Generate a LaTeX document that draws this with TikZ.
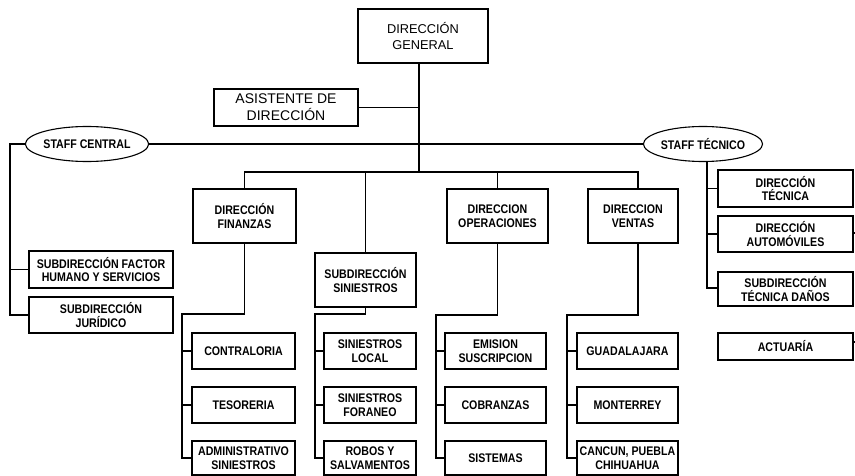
\documentclass[tikz,border=0pt]{standalone}
\usepackage{fontspec}
\setmainfont{Liberation Sans}
\newfontfamily\narrowsans{Liberation Sans}[FakeStretch=0.85]
\usetikzlibrary{shapes.geometric}

\tikzset{
  unit/.style={draw, line width=1.1pt, inner sep=0pt, align=center,
    font=\narrowsans\bfseries\fontsize{12.5}{13.5}\selectfont},
  oval/.style={unit, ellipse},
  head/.style={unit, font=\fontsize{12.8}{16}\selectfont},
  link/.style={line width=1.1pt},
}

\begin{document}
\begin{tikzpicture}[x=1pt, y=-1pt]
\useasboundingbox (0,0) rectangle (855,476);

% top level
\node[head, minimum width=130, minimum height=54] (dg) at (423,36) {DIRECCIÓN\\GENERAL};
\node[head, font=\fontsize{14}{17}\selectfont, minimum width=144, minimum height=37] (asi) at (286,107.5) {ASISTENTE DE\\DIRECCIÓN};
\node[oval, minimum width=114, minimum height=35] (sc) at (87,144) {STAFF CENTRAL};
\node[oval, minimum width=112, minimum height=35] (st) at (703,144) {STAFF TÉCNICO};

\coordinate (bus) at (419,172);

% directions
\node[unit, minimum width=103, minimum height=54] (fin) at (244.5,216) {DIRECCIÓN\\FINANZAS};
\node[unit, minimum width=101, minimum height=54] (sub) at (365.5,280) {SUBDIRECCIÓN\\SINIESTROS};
\node[unit, minimum width=101, minimum height=54] (ope) at (497.5,216) {DIRECCION\\OPERACIONES};
\node[unit, minimum width=90, minimum height=54] (ven) at (633,216) {DIRECCION\\VENTAS};

% staff central
\node[unit, minimum width=144, minimum height=37] (fac) at (101,269.5) {SUBDIRECCIÓN FACTOR\\HUMANO Y SERVICIOS};
\node[unit, minimum width=144, minimum height=36] (jur) at (101,315) {SUBDIRECCIÓN\\JURÍDICO};

% staff tecnico
\node[unit, minimum width=135, minimum height=37] (tec) at (785.5,188.5) {DIRECCIÓN\\TÉCNICA};
\node[unit, minimum width=135, minimum height=36] (aut) at (785.5,234) {DIRECCIÓN\\AUTOMÓVILES};
\node[unit, minimum width=135, minimum height=34] (dan) at (785.5,289) {SUBDIRECCIÓN\\TÉCNICA DAÑOS};
\node[unit, minimum width=135, minimum height=27] (act) at (785.5,346.5) {ACTUARÍA};

% finanzas
\node[unit, minimum width=103, minimum height=36] (con) at (243.5,351) {CONTRALORIA};
\node[unit, minimum width=103, minimum height=36] (tes) at (243.5,405) {TESORERIA};
\node[unit, minimum width=103, minimum height=34] (adm) at (243.5,458) {ADMINISTRATIVO\\SINIESTROS};

% siniestros
\node[unit, minimum width=92, minimum height=36] (sl) at (370,351) {SINIESTROS\\LOCAL};
\node[unit, minimum width=92, minimum height=36] (sf) at (370,405) {SINIESTROS\\FORANEO};
\node[unit, minimum width=92, minimum height=34] (rs) at (370,458) {ROBOS Y\\SALVAMENTOS};

% operaciones
\node[unit, minimum width=101, minimum height=36] (emi) at (495.5,351) {EMISION\\SUSCRIPCION};
\node[unit, minimum width=101, minimum height=36] (cob) at (495.5,405) {COBRANZAS};
\node[unit, minimum width=101, minimum height=34] (sis) at (495.5,458) {SISTEMAS};

% ventas
\node[unit, minimum width=101, minimum height=36] (gua) at (627.5,351) {GUADALAJARA};
\node[unit, minimum width=101, minimum height=36] (mon) at (627.5,405) {MONTERREY};
\node[unit, minimum width=101, minimum height=34] (can) at (627.5,458) {CANCUN, PUEBLA\\CHIHUAHUA};

% branch points
\coordinate (scl) at (10,144);
\coordinate (finb) at (182,314);
\coordinate (sinb) at (315,314);
\coordinate (opeb) at (436,315);
\coordinate (venb) at (567,315);
\coordinate (stb) at (707,288);
\coordinate (autr) at (855,233);
\coordinate (actr) at (855,342);

% trunk and staff line
\draw[link] (dg.south -| bus) -- (bus);
\draw[link] (asi.east) -- (asi.east -| bus);
\draw[link] (sc.east) -- (st.west);

% direction bus
\draw[link] (fin.north) -- (fin.north |- bus) -- ([xshift=5pt]ven.north |- bus) -- ([xshift=5pt]ven.north);
\draw[link] (sub.north |- bus) -- (sub.north);
\draw[link] (ope.north |- bus) -- (ope.north);

% staff central branch
\draw[link] (sc.west) -- (scl) |- (jur.west);
\draw[link] (fac.west) -- (fac.west -| scl);

% staff tecnico branch
\draw[link] (st.south -| stb) -- (stb) -- (dan.west |- stb);
\draw[link] (tec.west) -- (tec.west -| stb);
\draw[link] (aut.west) -- (aut.west -| stb);
\draw[link] (aut.east |- autr) -- (autr);
\draw[link] (act.east |- actr) -- (actr);

% finanzas branch
\draw[link] (fin.south) |- (finb) |- (adm.west);
\draw[link] (con.west) -- (con.west -| finb);
\draw[link] (tes.west) -- (tes.west -| finb);

% siniestros branch
\draw[link] (sub.south) |- (sinb) |- (rs.west);
\draw[link] (sl.west) -- (sl.west -| sinb);
\draw[link] (sf.west) -- (sf.west -| sinb);

% operaciones branch
\draw[link] (ope.south) |- (opeb) |- (sis.west);
\draw[link] (emi.west) -- (emi.west -| opeb);
\draw[link] (cob.west) -- (cob.west -| opeb);

% ventas branch
\draw[link] ([xshift=5pt]ven.south) |- (venb) |- (can.west);
\draw[link] (gua.west) -- (gua.west -| venb);
\draw[link] (mon.west) -- (mon.west -| venb);
\end{tikzpicture}
\end{document}
